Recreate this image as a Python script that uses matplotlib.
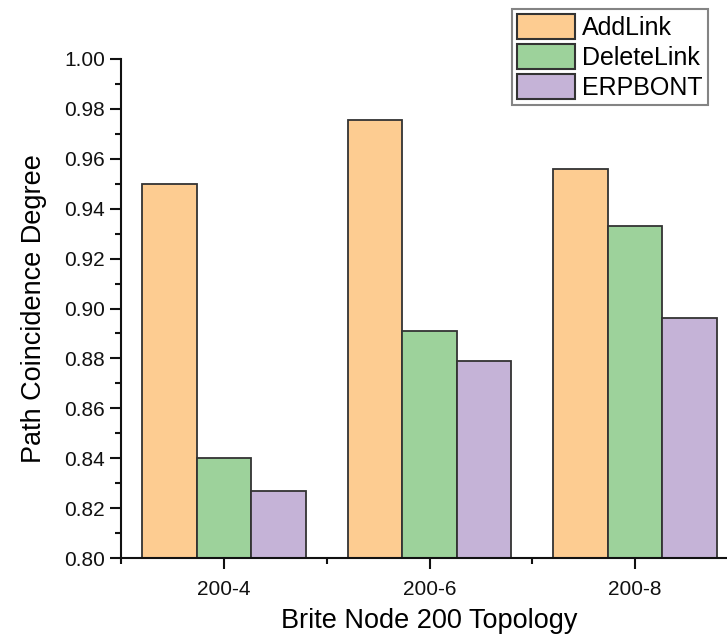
import numpy as np
from matplotlib import pyplot as plt
from matplotlib.ticker import MultipleLocator, FixedLocator

plt.rcParams['font.family'] = ['Liberation Sans', 'DejaVu Sans']

topologies = ["200-4", "200-6", "200-8"]
add_link = [0.950, 0.9756, 0.956]
delete_link = [0.840, 0.891, 0.933]
erpbont = [0.827, 0.879, 0.896]

series = [("AddLink", add_link, "#FDCC91"),
          ("DeleteLink", delete_link, "#9DD29B"),
          ("ERPBONT", erpbont, "#C5B3D7")]

fig = plt.figure(figsize=(7.27, 6.35), dpi=100)
# axes runs a bit past the right edge of the picture, like the original
ax = fig.add_axes([121/727, 1-558/635, (738-121)/727, (558-59)/635])

x = np.arange(len(topologies))
w = 0.265
for i, (name, vals, col) in enumerate(series):
    ax.bar(x + (i-1)*w, vals, w, color=col, edgecolor="#333333", linewidth=1.3, label=name)

ax.set_xlim(-0.5, 2.5)
ax.set_ylim(0.80, 1.00)
ax.set_xticks(x)
ax.set_xticklabels(topologies)
ax.xaxis.set_minor_locator(FixedLocator([-0.5, 0.5, 1.5, 2.5]))
ax.yaxis.set_major_locator(MultipleLocator(0.02))
ax.yaxis.set_minor_locator(MultipleLocator(0.01))
ax.yaxis.set_major_formatter(plt.FormatStrFormatter("%.2f"))

for s in ["top", "right"]:
    ax.spines[s].set_visible(False)
for s in ["left", "bottom"]:
    ax.spines[s].set_linewidth(1.5)
    ax.spines[s].set_color("#111111")

ax.tick_params(which="major", direction="out", length=8, width=1.5, labelsize=15, colors="#111111")
ax.tick_params(which="minor", direction="out", length=4.5, width=1.5, colors="#111111")
ax.tick_params(axis="x", which="major", pad=8)

ax.set_xlabel("Brite Node 200 Topology", fontsize=19.5, labelpad=6)
ax.set_ylabel("Path Coincidence Degree", fontsize=19.5, labelpad=12)

leg = ax.legend(loc="upper right", bbox_to_anchor=(708/727, 1-9/635), bbox_transform=fig.transFigure,
                fontsize=18, frameon=True, fancybox=False, borderaxespad=0,
                handlelength=2.3, handleheight=1.15, labelspacing=0.17,
                borderpad=0.2, handletextpad=0.3)
leg.get_frame().set_edgecolor("#666666")
leg.get_frame().set_linewidth(1.5)
for p in leg.get_patches():
    p.set_linewidth(1.5)

fig.savefig("out.png", dpi=100)
